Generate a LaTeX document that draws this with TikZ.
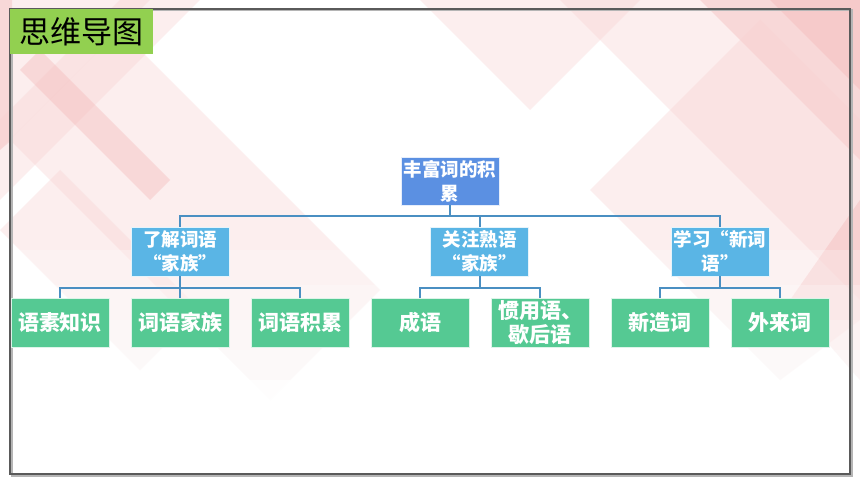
\documentclass[tikz,border=0pt]{standalone}
\usepackage{fontspec}
\setmainfont{Noto Sans CJK SC}
\definecolor{framegray}{HTML}{5A5A5A}
\definecolor{titlegreen}{HTML}{92D050}
\definecolor{leafgreen}{HTML}{55C993}
\definecolor{midblue}{HTML}{5AB5E5}
\definecolor{rootblue}{HTML}{5B90E2}
\definecolor{connblue}{HTML}{4A8FC2}
\definecolor{pinkA}{HTML}{F3B0B0}
\definecolor{pinkB}{HTML}{F8D0D0}
\tikzset{
  rootbox/.style={fill=rootblue, draw=white!85!rootblue, line width=0.8pt, minimum width=98pt, minimum height=48pt, inner sep=0pt, align=center, text=white, font=\fontsize{18.5}{24}\selectfont\bfseries},
  midbox/.style={fill=midblue, draw=white!85!midblue, line width=0.8pt, minimum width=98pt, minimum height=49pt, inner sep=0pt, align=center, text=white, font=\fontsize{18.5}{24}\selectfont\bfseries},
  leafbox/.style={fill=leafgreen, draw=white!80!leafgreen, line width=0.8pt, minimum width=98pt, minimum height=49pt, inner sep=0pt, align=center, text=white, font=\fontsize{21}{24}\selectfont\bfseries},
  conn/.style={draw=connblue, line width=2pt},
  bgband/.style={fill=pinkB, opacity=0.35},
  bgdeep/.style={fill=pinkA, opacity=0.35},
  bgwhite/.style={fill=white, opacity=0.25},
}
\begin{document}
\begin{tikzpicture}[x=1pt,y=-1pt]
\useasboundingbox (0,0) rectangle (860,484);
% background
\begin{scope}
\clip (0,0) rectangle (860,484);
\fill[white] (0,0) rectangle (860,484);
% left family of diagonal bands
\fill[bgband] (0,0) -- (150,0) -- (0,150) -- cycle;
\fill[bgdeep] (0,0) -- (12,0) -- (12,140) -- (0,150) -- cycle;
\fill[bgband] (0,120) -- (120,0) -- (200,0) -- (0,200) -- cycle;
\fill[bgband] (10,140) -- (120,30) -- (380,290) -- (270,400) -- cycle;
\fill[bgdeep] (20,70) -- (40,50) -- (170,180) -- (150,200) -- cycle;
\fill[bgband] (0,230) -- (60,170) -- (200,310) -- (140,370) -- cycle;
% top middle
\fill[bgband] (420,0) -- (640,0) -- (530,110) -- cycle;
% right family
\fill[bgband] (560,0) -- (860,0) -- (860,300) -- cycle;
\fill[bgdeep] (700,0) -- (860,0) -- (860,160) -- cycle;
\fill[bgdeep] (770,0) -- (860,0) -- (860,90) -- cycle;
\fill[bgband] (590,190) -- (760,20) -- (860,120) -- (860,320) -- (780,380) -- cycle;
\fill[bgdeep] (860,200) -- (860,380) -- (790,300) -- cycle;
% fade to white at bottom
\fill[bgwhite] (0,250) rectangle (860,484);
\fill[bgwhite] (0,285) rectangle (860,484);
\fill[bgwhite] (0,320) rectangle (860,484);
\fill[bgwhite] (0,350) rectangle (860,484);
\fill[white, opacity=0.8] (0,380) rectangle (860,484);
\end{scope}
% frame
\draw[framegray!45, line width=2pt] (11.5,10.5) rectangle (851.5,475.5);
\draw[framegray, line width=1.4pt] (10,9) rectangle (850,474);
% title
\node[fill=titlegreen, minimum width=143pt, minimum height=45pt, inner sep=0pt, font=\fontsize{31}{31}\selectfont, text=black] (title) at (81.5,31.5) {思维导图};
% tree nodes
\node[rootbox] (root) at (450,181) {丰富词的积\\累};
\node[midbox] (m1) at (180,251.5) {了解词语\\“家族”};
\node[midbox] (m2) at (479.5,251.5) {关注熟语\\“家族”};
\node[midbox] (m3) at (720,251.5) {学习“新词\\语”};
\node[leafbox] (l1) at (60,322.5) {语素知识};
\node[leafbox] (l2) at (180,322.5) {词语家族};
\node[leafbox] (l3) at (300,322.5) {词语积累};
\node[leafbox] (l4) at (420,322.5) {成语};
\node[leafbox] (l5) at (540,322.5) {惯用语、\\歇后语};
\node[leafbox] (l6) at (660,322.5) {新造词};
\node[leafbox] (l7) at (780,322.5) {外来词};
% connectors
\draw[conn] (root.south) -- ++(0,11) -| (m1.north);
\draw[conn] (root.south) -- ++(0,11) -| (m2.north);
\draw[conn] (root.south) -- ++(0,11) -| (m3.north);
\draw[conn] (m1.south) -- ++(0,12) -| (l1.north);
\draw[conn] (m1.south) -- ++(0,12) -| (l2.north);
\draw[conn] (m1.south) -- ++(0,12) -| (l3.north);
\draw[conn] (m2.south) -- ++(0,12) -| (l4.north);
\draw[conn] (m2.south) -- ++(0,12) -| (l5.north);
\draw[conn] (m3.south) -- ++(0,12) -| (l6.north);
\draw[conn] (m3.south) -- ++(0,12) -| (l7.north);
\end{tikzpicture}
\end{document}
